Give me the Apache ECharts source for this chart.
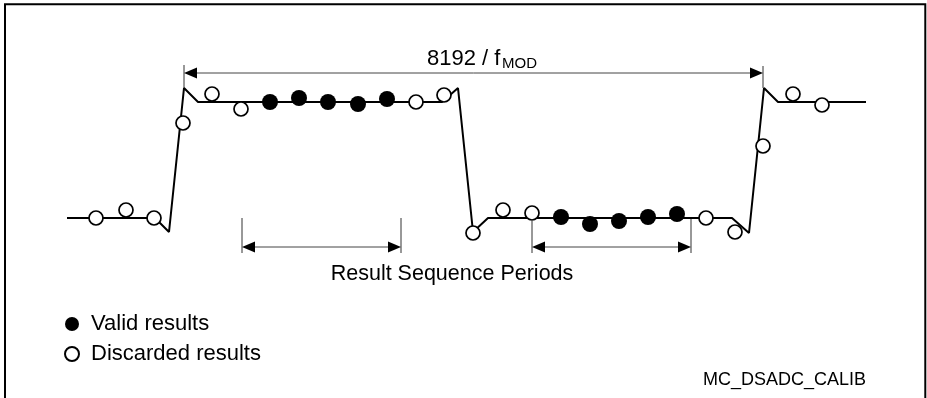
<!DOCTYPE html>
<html>
<head>
<meta charset="utf-8">
<script src="https://cdn.jsdelivr.net/npm/echarts@6/dist/echarts.min.js"></script>
<style>html,body{margin:0;padding:0;background:#fff}#c{width:927px;height:398px}</style>
</head>
<body>
<div id="c"></div>
<script>
// Waveform (signal) polyline
const waveX = [67, 155, 169, 184, 198, 442, 458, 473, 488, 732, 749, 764, 778, 866];
const waveY = [218, 218, 232, 88, 102, 102, 88, 232, 218, 218, 233, 88, 102, 102];
// Valid (filled) results
const validX = [270, 299, 328, 358, 387, 561, 590, 619, 648, 677];
const validY = [102, 98, 102, 104, 99, 217, 224, 221, 217, 214];
// Discarded (open) results
const discX = [96, 126, 154, 183, 212, 241, 416, 444, 473, 503, 532, 706, 735, 763, 793, 822];
const discY = [218, 210, 218, 123, 94, 109, 102, 95, 233, 210, 213, 218, 232, 146, 94, 105];
// Dimension arrows (two-headed)
const arrowX1 = [184, 242, 532];
const arrowX2 = [763, 401, 691];
const arrowY = [73, 247, 247];
// Extension (tick) lines
const tickX = [184, 763, 242, 401, 532, 691];
const tickTop = [65, 66, 218, 218, 221, 218];
const tickBottom = [88, 88, 253, 253, 253, 253];
// Texts
const periodLabel = 'Result Sequence Periods';
const spanLabel = '8192 / f';
const spanSub = 'MOD';
const legendNames = ['Valid results', 'Discarded results'];
const figureId = 'MC_DSADC_CALIB';

const FONT = '"Liberation Sans", Arial, Helvetica, sans-serif';
const chart = echarts.init(document.getElementById('c'), null, {renderer: 'canvas'});

const zip = (xs, ys) => xs.map((x, i) => [x, ys[i]]);

chart.setOption({
  animation: false,
  backgroundColor: '#fff',
  grid: {left: 0, right: 0, top: 0, bottom: 0},
  xAxis: {type: 'value', min: 0, max: 927, show: false},
  yAxis: {type: 'value', min: 0, max: 398, inverse: true, show: false},
  legend: {
    orient: 'vertical', left: 59, top: 308, itemWidth: 14, itemHeight: 14, itemGap: 8,
    icon: 'circle', selectedMode: false,
    data: legendNames,
    textStyle: {fontFamily: FONT, fontSize: 22, color: '#000', lineHeight: 22, padding: [0, 0, 0, 7]}
  },
  graphic: [
    {type: 'polyline', shape: {points: [[5, 398], [5, 4.3], [925.3, 4.3], [925.3, 398]]},
     style: {stroke: '#000', lineWidth: 2, fill: null}},
    {type: 'text', x: 452, y: 274, style: {text: periodLabel, font: '21.5px ' + FONT, fill: '#000', align: 'center', verticalAlign: 'middle'}},
    {type: 'text', x: 427, y: 59, style: {text: spanLabel, font: '22px ' + FONT, fill: '#000', align: 'left', verticalAlign: 'middle'}},
    {type: 'text', x: 502, y: 64, style: {text: spanSub, font: '15px ' + FONT, fill: '#000', align: 'left', verticalAlign: 'middle'}},
    {type: 'text', x: 703, y: 380, style: {text: figureId, font: '18px ' + FONT, fill: '#000', align: 'left', verticalAlign: 'middle'}}
  ],
  series: [
    {
      type: 'custom', name: 'ticks', silent: true, z: 1,
      data: tickX.map((x, i) => [x, tickTop[i], tickBottom[i]]),
      renderItem: (params, api) => {
        const a = api.coord([api.value(0), api.value(1)]);
        const b = api.coord([api.value(0), api.value(2)]);
        return {type: 'line', shape: {x1: a[0], y1: a[1], x2: b[0], y2: b[1]}, style: {stroke: '#333', lineWidth: 1}};
      }
    },
    {
      type: 'custom', name: 'arrows', silent: true, z: 1,
      data: arrowX1.map((x, i) => [x, arrowX2[i], arrowY[i]]),
      renderItem: (params, api) => {
        const a = api.coord([api.value(0), api.value(2)]);
        const b = api.coord([api.value(1), api.value(2)]);
        const L = 13, H = 5.5;
        return {type: 'group', children: [
          {type: 'line', shape: {x1: a[0] + 4, y1: a[1], x2: b[0] - 4, y2: b[1]}, style: {stroke: '#444', lineWidth: 1}},
          {type: 'polygon', shape: {points: [[a[0], a[1]], [a[0] + L, a[1] - H], [a[0] + L, a[1] + H]]}, style: {fill: '#000'}},
          {type: 'polygon', shape: {points: [[b[0], b[1]], [b[0] - L, b[1] - H], [b[0] - L, b[1] + H]]}, style: {fill: '#000'}}
        ]};
      }
    },
    {
      type: 'line', name: 'signal', z: 2, data: zip(waveX, waveY), symbol: 'none',
      lineStyle: {color: '#000', width: 2}, silent: true
    },
    {
      type: 'scatter', name: legendNames[0], z: 3, data: zip(validX, validY), symbol: 'circle', symbolSize: 16,
      itemStyle: {color: '#000', opacity: 1}, silent: true
    },
    {
      type: 'scatter', name: legendNames[1], z: 3, data: zip(discX, discY), symbol: 'circle', symbolSize: 14,
      itemStyle: {color: '#fff', borderColor: '#000', borderWidth: 1.7, opacity: 1}, silent: true
    }
  ]
});
</script>
</body>
</html>
